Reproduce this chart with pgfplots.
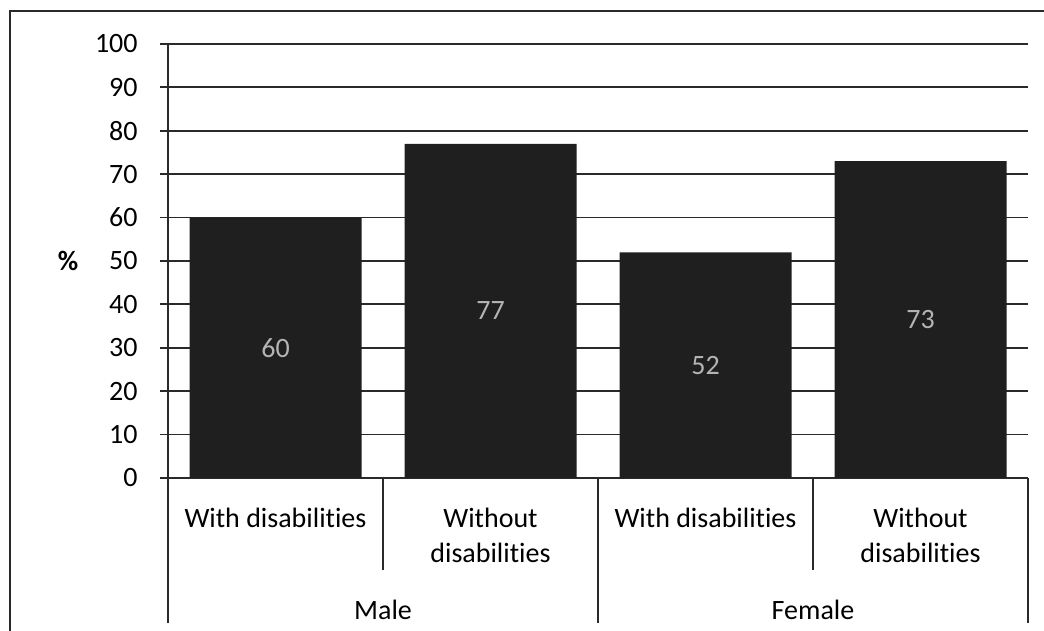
\documentclass[border=0pt]{standalone}
\usepackage{pgfplots}
\usepackage{pgfplotstable}
\pgfplotsset{compat=1.18}
\usepackage{fontspec}
\setmainfont{Carlito}[Ligatures={NoCommon}]
\definecolor{barcol}{HTML}{1F1F1F}
\definecolor{lblcol}{HTML}{B4B4B4}
\definecolor{linecol}{HTML}{2A2A2A}
\pgfplotstableread{
x y
0 60
1 77
2 52
3 73
}\datatable
\begin{document}
\begin{tikzpicture}[font=\fontsize{14}{17.5}\selectfont]
\path[use as bounding box] (0,0) rectangle (522pt,315.5pt);
\draw[linecol, line width=0.9pt] (5pt,0) -- (5pt,310pt) -- (522pt,310pt);
\begin{axis}[
  at={(84pt,76.5pt)}, anchor=south west,
  scale only axis, width=430pt, height=217pt,
  xmin=-0.5, xmax=3.5, ymin=0, ymax=100,
  ytick={0,10,...,100},
  xtick={0,1,2,3},
  xticklabels={With disabilities, {Without\\disabilities}, With disabilities, {Without\\disabilities}},
  x tick style={draw=none},
  xticklabel style={align=center, anchor=north, inner sep=0pt, yshift=-11pt},
  yticklabel style={anchor=east, inner sep=0pt, xshift=-11pt},
  axis x line=bottom, axis y line=left,
  axis line style={-, linecol, line width=0.9pt},
  ymajorgrids, grid style={linecol, line width=0.9pt},
  tick align=outside, major tick length=4pt,
  ytick style={linecol, line width=0.9pt},
  /pgf/number format/assume math mode=true,
  clip=false,
]
\addplot[ybar, bar width=0.8, fill=barcol, draw=none] table[x=x, y=y] {\datatable};
\addplot[draw=none, mark=none, point meta=explicit,
  nodes near coords={\pgfmathprintnumber{\pgfplotspointmeta}},
  nodes near coords style={anchor=center, text=lblcol}]
  table[x=x, y expr=\thisrow{y}/2, meta=y] {\datatable};
\draw[linecol, line width=0.9pt] (axis cs:-0.5,0) -- ++(0pt,-72.5pt);
\draw[linecol, line width=0.9pt] (axis cs:1.5,0) -- ++(0pt,-72.5pt);
\draw[linecol, line width=0.9pt] (axis cs:3.5,0) -- ++(0pt,-72.5pt);
\draw[linecol, line width=0.9pt] (axis cs:0.5,0) -- ++(0pt,-46pt);
\draw[linecol, line width=0.9pt] (axis cs:2.5,0) -- ++(0pt,-46pt);
\node at (axis cs:0.5,0) [yshift=-66pt] {Male};
\node at (axis cs:2.5,0) [yshift=-66pt] {Female};
\node[font=\fontsize{14}{17.5}\selectfont\bfseries] at ([xshift=-50pt]rel axis cs:0,0.5) {\%};
\end{axis}
\end{tikzpicture}
\end{document}
